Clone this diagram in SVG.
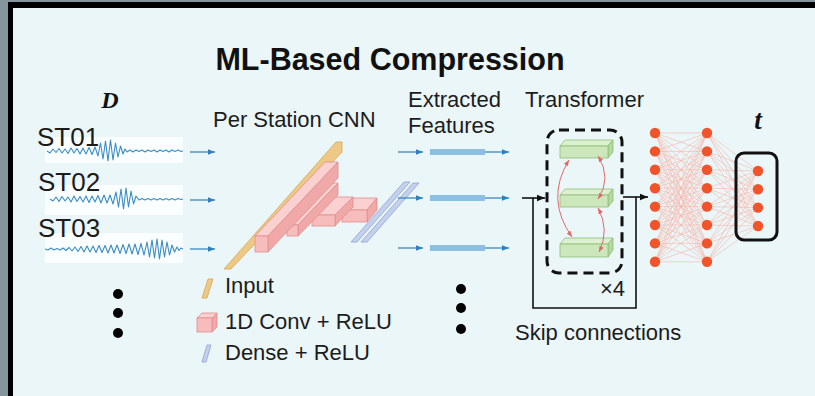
<svg xmlns="http://www.w3.org/2000/svg" width="815" height="396" viewBox="0 0 815 396">
<defs>
<style>
.t{font-family:"Liberation Sans",Arial,sans-serif;fill:#1c1c1c;font-size:22px}
.ti{font-family:"Liberation Sans",Arial,sans-serif;font-weight:bold;font-size:30.5px;fill:#111}
.st{font-family:"Liberation Sans",Arial,sans-serif;fill:#1c1c1c;font-size:26px}
.mv{font-family:"Liberation Serif","Times New Roman",serif;font-weight:bold;font-style:italic;fill:#111}
.wave{fill:none;stroke:#3a8dc6;stroke-width:1.1;stroke-linejoin:round}
.strip{fill:#fbfeff}
.ba{stroke:#2f80bd;stroke-width:1.2;fill:none;marker-end:url(#ab)}
.bar{fill:#8cbfe2}
.k{stroke:#111;stroke-width:1.6;fill:none}
.ka{stroke:#111;stroke-width:1.6;fill:none;marker-end:url(#ak)}
.inp{fill:#edc985;stroke:#d6a75a;stroke-width:0.8}
.cf{fill:#f7bcbc;stroke:#e08e8e;stroke-width:0.8}
.ct{fill:#fad0d0;stroke:#e08e8e;stroke-width:0.8}
.cs{fill:#f0a8a8;stroke:#e08e8e;stroke-width:0.8}
.dn{fill:#c5d1ec;stroke:#8ea3d3;stroke-width:0.8}
.gf{fill:#cbe7bb;stroke:#8ebf78;stroke-width:0.8}
.gt{fill:#def0d2;stroke:#8ebf78;stroke-width:0.8}
.gs{fill:#b3d8a0;stroke:#8ebf78;stroke-width:0.8}
.ra{fill:none;stroke:#e06a6a;stroke-width:1;marker-end:url(#ar);marker-start:url(#ar)}
.nn{fill:#f1532b}
.cn{fill:none;stroke:#f7b4a6;stroke-width:0.6}
.dot{fill:#000}
</style>
<marker id="ab" viewBox="0 0 10 10" refX="10" refY="5" markerWidth="8" markerHeight="7" markerUnits="userSpaceOnUse" orient="auto"><path d="M0,1 L10,5 L0,9 z" fill="#2f80bd"/></marker>
<marker id="ak" viewBox="0 0 10 10" refX="10" refY="5" markerWidth="8" markerHeight="8" markerUnits="userSpaceOnUse" orient="auto"><path d="M0,1 L10,5 L0,9 z" fill="#111"/></marker>
<marker id="ar" viewBox="0 0 10 10" refX="10" refY="5" markerWidth="6" markerHeight="6" markerUnits="userSpaceOnUse" orient="auto-start-reverse"><path d="M0,1 L10,5 L0,9 z" fill="#e06a6a"/></marker>
</defs>

<!-- frame -->
<rect x="0" y="0" width="815" height="396" fill="#84959d"/>
<rect x="8" y="2" width="807" height="394" fill="#000"/>
<rect x="13" y="8" width="802" height="388" fill="#ebf6f9"/>

<text class="ti" x="390" y="70" text-anchor="middle">ML-Based Compression</text>

<g id="input-D">
<text class="mv" x="110" y="108" font-size="24" text-anchor="middle">D</text>
</g>

<g id="station-ST01">
<rect class="strip" x="45" y="137" width="138" height="26"/>
<path class="wave" d="M47 151 L50 153 L53 149 L56 152.5 L59 148.5 L62 153 L65 149 L68 153.5 L71 148 L74 153 L77 148.5 L80 154 L83 148 L86 154 L89 147.5 L92 154.5 L95 147 L98 156 L100.5 143 L103 159 L105.5 141 L108 161 L110.5 140 L113 160 L115.5 143 L118 157 L120.5 146 L123 154 L125 149 L127 152 L130 150 L133 152 L136 150 L139 151.5 L142 150 L145 152 L148 150 L151 151.5 L154 150 L157 152 L160 150 L163 151.5 L166 150 L169 152 L172 150 L175 151.5 L178 150 L181 151.5 L183 151"/>
<text class="st" x="37" y="146">ST01</text>
</g>
<g id="station-ST02">
<rect class="strip" x="45" y="185" width="138" height="30"/>
<path class="wave" d="M50 199 L53 201 L56 197 L59 201.5 L62 196.5 L65 201 L68 197 L71 202 L74 196 L77 201.5 L80 196.5 L83 202 L86 196 L89 202.5 L92 196 L95 202 L98 195.5 L101 203 L104 195 L107 203 L110 195 L113 204 L116 192 L118.5 207 L121 189 L123.5 209 L126 188 L128.5 207 L131 191 L133.5 204 L136 196 L139 200 L142 198.5 L145 200 L148 198.5 L151 200 L154 198.5 L157 200 L160 198.5 L163 200 L166 198.5 L169 200 L172 198.5 L175 200 L178 198.5 L181 199.5 L183 199"/>
<text class="st" x="38" y="190.5">ST02</text>
</g>
<g id="station-ST03">
<rect class="strip" x="45" y="233" width="138" height="30"/>
<path class="wave" d="M45 249 L48 250 L51 248 L54 250 L57 248.5 L60 250 L63 248 L66 250.5 L69 247.5 L72 251 L75 247 L78 251.5 L81 246.5 L84 252 L87 246 L90 252 L93 246 L96 252.5 L99 245.5 L102 252.5 L105 245.5 L108 253 L111 245 L114 253 L117 245 L120 253.5 L123 244.5 L126 253.5 L129 244 L132 254 L135 244 L138 254.5 L141 243.5 L144 255 L147 242 L149.5 257 L152 240 L154.5 258 L157 239 L159.5 259 L162 240 L164.5 257 L167 242 L169.5 255 L172 245 L174.5 252 L177 247 L179 250.5 L181 248 L183 249"/>
<text class="st" x="38" y="237">ST03</text>
</g>

<g id="more-stations">
<circle class="dot" cx="118" cy="294" r="5"/>
<circle class="dot" cx="118" cy="313" r="5"/>
<circle class="dot" cx="118" cy="333" r="5"/>
</g>

<g id="cnn">
<text class="t" x="213" y="127">Per Station CNN</text>
<polygon class="inp" points="224,269 336,142 342,142 342,152 231,269"/>
<polygon class="ct" points="342,210 352,198 377,198 367,210"/>
<polygon class="cs" points="367,210 377,198 377,210 367,222"/>
<rect class="cf" x="342" y="210" width="25" height="12"/>
<polygon class="ct" points="312,215 330,197 353,197 335,215"/>
<polygon class="cs" points="335,215 353,197 353,207 335,226"/>
<rect class="cf" x="312" y="215" width="23" height="11"/>
<polygon class="ct" points="287,225 327,183 338,183 298,225"/>
<polygon class="cs" points="298,225 338,183 338,195 298,236"/>
<rect class="cf" x="287" y="225" width="11" height="11"/>
<polygon class="ct" points="255,236 325,162 338,162 268,236"/>
<polygon class="cs" points="268,236 338,162 338,178 268,252"/>
<rect class="cf" x="255" y="236" width="13" height="16"/>
<polygon class="dn" points="351,242 357,242 410,182 404,182"/>
<polygon class="dn" points="361,242 367,242 419,183 413,183"/>
</g>

<g id="legend">
<polygon class="inp" points="202,298 207,298 213,279 208,279"/>
<text class="t" x="225" y="293">Input</text>
<polygon class="ct" points="197,318 202,313 217,313 212,318"/>
<polygon class="cs" points="212,318 217,313 217,327 212,332"/>
<rect class="cf" x="197" y="318" width="15" height="14"/>
<text class="t" x="225" y="329">1D Conv + ReLU</text>
<polygon class="dn" points="202,362 206,362 211,345 207,345"/>
<text class="t" x="225" y="360">Dense + ReLU</text>
</g>

<g id="features">
<text class="t" x="408" y="107">Extracted</text>
<text class="t" x="408" y="133">Features</text>
<rect class="bar" x="430" y="149" width="55" height="6"/>
<rect class="bar" x="430" y="195" width="55" height="6"/>
<rect class="bar" x="430" y="245" width="55" height="6"/>
<circle class="dot" cx="461" cy="289" r="5"/>
<circle class="dot" cx="461" cy="308" r="5"/>
<circle class="dot" cx="461" cy="329" r="5"/>
</g>

<g id="transformer">
<text class="t" x="525" y="107">Transformer</text>
<rect x="547" y="130" width="75" height="143" rx="12" fill="none" stroke="#111" stroke-width="3" stroke-dasharray="10 6"/>
<polygon class="gt" points="560,146 565,140 613,140 608,146"/>
<polygon class="gs" points="608,146 613,140 613,152 608,158"/>
<rect class="gf" x="560" y="146" width="48" height="12"/>
<polygon class="gt" points="560,195 565,189 613,189 608,195"/>
<polygon class="gs" points="608,195 613,189 613,201 608,207"/>
<rect class="gf" x="560" y="195" width="48" height="12"/>
<polygon class="gt" points="560,244 565,238 613,238 608,244"/>
<polygon class="gs" points="608,244 613,238 613,250 608,257"/>
<rect class="gf" x="560" y="244" width="48" height="13"/>
<path class="ra" d="M569 160 Q545 199 572 237"/>
<path class="ra" d="M598 156 Q612 178 598 199"/>
<path class="ra" d="M598 208 Q610 230 599 252"/>
<text class="t" x="600" y="296" font-size="19">×4</text>
<text class="t" x="515" y="340">Skip connections</text>
</g>

<g id="mlp">
<path class="cn" d="M655 133L707 133M655 133L707 151.4M655 133L707 169.8M655 133L707 188.2M655 133L707 206.6M655 133L707 225M655 133L707 243.4M655 133L707 261.8
M655 151.4L707 133M655 151.4L707 151.4M655 151.4L707 169.8M655 151.4L707 188.2M655 151.4L707 206.6M655 151.4L707 225M655 151.4L707 243.4M655 151.4L707 261.8
M655 169.8L707 133M655 169.8L707 151.4M655 169.8L707 169.8M655 169.8L707 188.2M655 169.8L707 206.6M655 169.8L707 225M655 169.8L707 243.4M655 169.8L707 261.8
M655 188.2L707 133M655 188.2L707 151.4M655 188.2L707 169.8M655 188.2L707 188.2M655 188.2L707 206.6M655 188.2L707 225M655 188.2L707 243.4M655 188.2L707 261.8
M655 206.6L707 133M655 206.6L707 151.4M655 206.6L707 169.8M655 206.6L707 188.2M655 206.6L707 206.6M655 206.6L707 225M655 206.6L707 243.4M655 206.6L707 261.8
M655 225L707 133M655 225L707 151.4M655 225L707 169.8M655 225L707 188.2M655 225L707 206.6M655 225L707 225M655 225L707 243.4M655 225L707 261.8
M655 243.4L707 133M655 243.4L707 151.4M655 243.4L707 169.8M655 243.4L707 188.2M655 243.4L707 206.6M655 243.4L707 225M655 243.4L707 243.4M655 243.4L707 261.8
M655 261.8L707 133M655 261.8L707 151.4M655 261.8L707 169.8M655 261.8L707 188.2M655 261.8L707 206.6M655 261.8L707 225M655 261.8L707 243.4M655 261.8L707 261.8
M707 133L758 171M707 133L758 189.3M707 133L758 207.6M707 133L758 226
M707 151.4L758 171M707 151.4L758 189.3M707 151.4L758 207.6M707 151.4L758 226
M707 169.8L758 171M707 169.8L758 189.3M707 169.8L758 207.6M707 169.8L758 226
M707 188.2L758 171M707 188.2L758 189.3M707 188.2L758 207.6M707 188.2L758 226
M707 206.6L758 171M707 206.6L758 189.3M707 206.6L758 207.6M707 206.6L758 226
M707 225L758 171M707 225L758 189.3M707 225L758 207.6M707 225L758 226
M707 243.4L758 171M707 243.4L758 189.3M707 243.4L758 207.6M707 243.4L758 226
M707 261.8L758 171M707 261.8L758 189.3M707 261.8L758 207.6M707 261.8L758 226"/>
<circle class="nn" cx="655" cy="133" r="5.2"/><circle class="nn" cx="655" cy="151.4" r="5.2"/><circle class="nn" cx="655" cy="169.8" r="5.2"/><circle class="nn" cx="655" cy="188.2" r="5.2"/><circle class="nn" cx="655" cy="206.6" r="5.2"/><circle class="nn" cx="655" cy="225" r="5.2"/><circle class="nn" cx="655" cy="243.4" r="5.2"/><circle class="nn" cx="655" cy="261.8" r="5.2"/>
<circle class="nn" cx="707" cy="133" r="5.2"/><circle class="nn" cx="707" cy="151.4" r="5.2"/><circle class="nn" cx="707" cy="169.8" r="5.2"/><circle class="nn" cx="707" cy="188.2" r="5.2"/><circle class="nn" cx="707" cy="206.6" r="5.2"/><circle class="nn" cx="707" cy="225" r="5.2"/><circle class="nn" cx="707" cy="243.4" r="5.2"/><circle class="nn" cx="707" cy="261.8" r="5.2"/>
</g>

<g id="output-t">
<text class="mv" x="758" y="129" font-size="27" text-anchor="middle">t</text>
<rect x="736" y="153" width="41" height="87" rx="8" fill="none" stroke="#111" stroke-width="3"/>
<circle class="nn" cx="758" cy="171" r="5.2"/><circle class="nn" cx="758" cy="189.3" r="5.2"/><circle class="nn" cx="758" cy="207.6" r="5.2"/><circle class="nn" cx="758" cy="226" r="5.2"/>
</g>

<g id="connectors">
<line class="ba" x1="190" y1="152" x2="215" y2="152"/>
<line class="ba" x1="190" y1="200" x2="215" y2="200"/>
<line class="ba" x1="190" y1="249" x2="215" y2="249"/>
<line class="ba" x1="398" y1="152" x2="423" y2="152"/>
<line class="ba" x1="398" y1="198" x2="423" y2="198"/>
<line class="ba" x1="398" y1="248" x2="423" y2="248"/>
<line class="ba" x1="485" y1="152" x2="509" y2="152"/>
<line class="ba" x1="485" y1="198" x2="509" y2="198"/>
<line class="ba" x1="485" y1="248" x2="509" y2="248"/>
<line class="ka" x1="522" y1="198" x2="545" y2="198"/>
<polyline class="k" points="533,198 533,308 636,308 636,197"/>
<line class="ka" x1="623" y1="197" x2="648" y2="197"/>
</g>
</svg>
